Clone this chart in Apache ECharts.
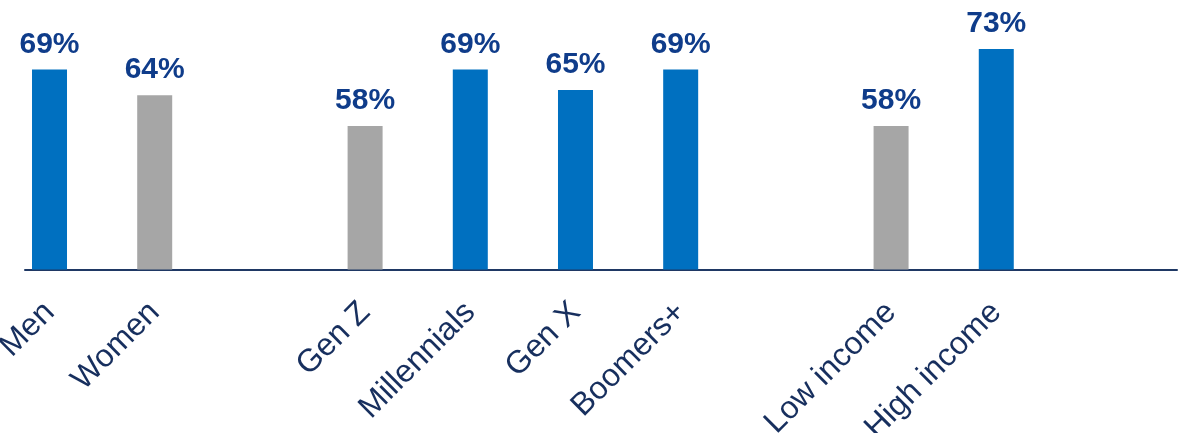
<!DOCTYPE html>
<html>
<head>
<meta charset="utf-8">
<script src="https://cdn.jsdelivr.net/npm/echarts@6/dist/echarts.min.js"></script>
<style>
  html, body { margin: 0; padding: 0; background: #ffffff; }
  #chart { width: 1178px; height: 433px; }
</style>
</head>
<body>
<div id="chart"></div>
<script>
// Segments, with empty slots separating the gender, generation and income groups
const categories = ['Men', 'Women', '', 'Gen Z', 'Millennials', 'Gen X', 'Boomers+', '', 'Low income', 'High income'];
const values     = [69, 64, null, 58, 69, 65, 69, null, 58, 73];
const mutedSegments = ['Women', 'Gen Z', 'Low income'];

const BLUE = '#0070C0';
const GREY = '#A6A6A6';
const NAVY = '#1F3864';
const LABEL_NAVY = '#172F5E';
const VALUE_BLUE = '#0F3C8A';
const FONT = '"Liberation Sans", Arial, Helvetica, sans-serif';

const points = categories
  .map((name, i) => ({ name, i, v: values[i] }))
  .filter(d => d.name !== '' && d.v !== null);

const chart = echarts.init(document.getElementById('chart'), null, { renderer: 'canvas' });

chart.setOption({
  animation: false,
  grid: { left: 25, right: 1, top: 49, bottom: 163.5, outerBoundsMode: 'none', containLabel: false },
  xAxis: {
    type: 'value',
    min: -0.233,
    max: 10.718,
    splitLine: { show: false },
    axisTick: { show: false },
    axisLine: { show: true, lineStyle: { color: NAVY, width: 2 } },
    axisLabel: {
      customValues: points.map(d => d.i),
      formatter: v => categories[Math.round(v)] || '',
      rotate: 45,
      margin: 38,
      color: LABEL_NAVY,
      fontFamily: FONT,
      fontSize: 32
    }
  },
  yAxis: {
    type: 'value',
    min: 30,
    max: 73,
    show: false,
    splitLine: { show: false }
  },
  series: [{
    type: 'bar',
    barWidth: 35,
    data: points.map(d => ({
      value: [d.i, d.v],
      itemStyle: { color: mutedSegments.includes(d.name) ? GREY : BLUE }
    })),
    label: {
      show: true,
      position: 'top',
      distance: 10,
      formatter: p => p.value[1] + '%',
      color: VALUE_BLUE,
      fontFamily: FONT,
      fontWeight: 'bold',
      fontSize: 30
    }
  }]
});
</script>
</body>
</html>
